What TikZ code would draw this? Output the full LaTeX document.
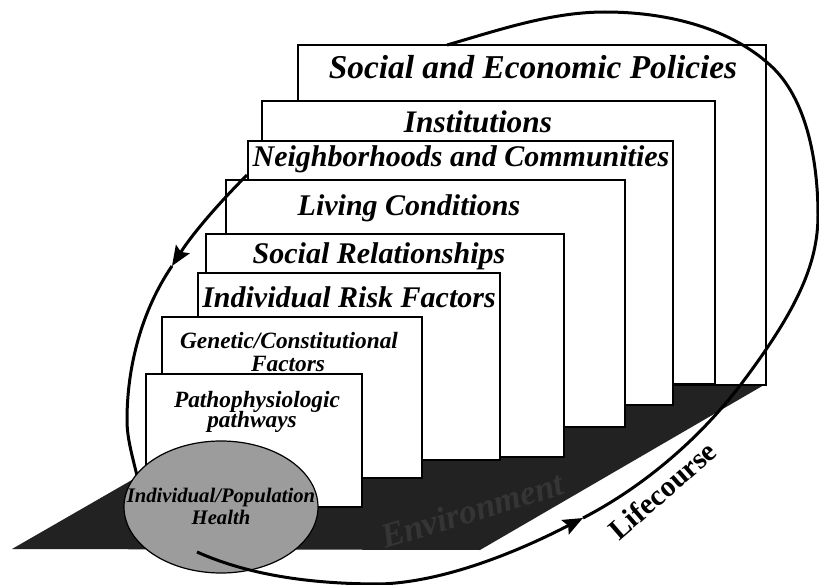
\documentclass[tikz,border=0pt]{standalone}
\usepackage{fontspec}
\setmainfont{Liberation Serif}
\usetikzlibrary{shapes.geometric,arrows.meta}
\definecolor{floorc}{HTML}{222222}
\definecolor{envc}{HTML}{353535}
\definecolor{healthc}{HTML}{9C9C9C}
\begin{document}
\begin{tikzpicture}[x=0.75pt,y=-0.75pt,
  layerbox/.style={draw=black, fill=white, line width=0.9pt, inner sep=0pt, outer sep=0pt, anchor=north west},
  lbl/.style={font=\bfseries\itshape\fontsize{22.5}{24}\selectfont, anchor=base, inner sep=0pt},
  lblsmall/.style={font=\bfseries\itshape\fontsize{17.5}{18}\selectfont, anchor=base, inner sep=0pt},
  lblhealth/.style={font=\bfseries\itshape\fontsize{15.5}{16}\selectfont, anchor=base, inner sep=0pt},
  loopline/.style={line width=2.25pt},
  looptip/.style={-{Stealth[length=15pt,width=12pt,inset=2.5pt]}}
]
\useasboundingbox (0,0) rectangle (819,585);
\fill[white] (0,0) rectangle (819,585);
% floor
\fill[floorc] (12,549) -- (480,550) -- (764,385) -- (297,385) -- cycle;
\node[font=\bfseries\itshape\fontsize{26}{26}\selectfont, text=envc, rotate=17, inner sep=0pt] (env) at (472,510) {Environment};
% layers
\node[layerbox, minimum width=351pt, minimum height=255pt] (sep) at (298,45) {};
\node[layerbox, minimum width=339.75pt, minimum height=212.25pt] (inst) at (262,101) {};
\node[layerbox, minimum width=318.75pt, minimum height=198pt] (nc) at (248,141) {};
\node[layerbox, minimum width=299.25pt, minimum height=185.25pt] (lc) at (226,180) {};
\node[layerbox, minimum width=268.5pt, minimum height=167.25pt] (sr) at (206,234) {};
\node[layerbox, minimum width=226.5pt, minimum height=140.25pt] (irf) at (198,273) {};
\node[layerbox, minimum width=195pt, minimum height=120.75pt] (gen) at (162,317) {};
\node[layerbox, minimum width=162pt, minimum height=99.75pt] (patho) at (146,374) {};
% labels
\node[lbl, font=\bfseries\itshape\fontsize{25}{26}\selectfont] (tsep) at (533,79) {Social and Economic Policies};
\node[lbl, font=\bfseries\itshape\fontsize{23.5}{24}\selectfont] (tinst) at (478,133) {Institutions};
\node[lbl] (tnc) at (461,167) {Neighborhoods and Communities};
\node[lbl] (tlc) at (409,216) {Living Conditions};
\node[lbl] (tsr) at (379,263) {Social Relationships};
\node[lbl] (tirf) at (349,307) {Individual Risk Factors};
\node[lblsmall] (tgen1) at (289,348) {Genetic/Constitutional};
\node[lblsmall] (tgen2) at (288,371) {Factors};
\node[lblsmall] (tpat1) at (257,407) {Pathophysiologic};
\node[lblsmall] (tpat2) at (252,427) {pathways};
% loop points
\coordinate (A) at (197,552);
\coordinate (B) at (380,584);
\coordinate (C) at (583,518);
\coordinate (D) at (742,383);
\coordinate (E) at (818,215);
\coordinate (F) at (770,65);
\coordinate (G) at (605,12);
\coordinate (H) at (447,45);
\coordinate (I) at (247,175);
\coordinate (J) at (172,266);
\coordinate (K) at (127,420);
\coordinate (L) at (140,488);
% left part of the loop (behind the health ellipse)
\draw[loopline, looptip] (I) .. controls (220,202) and (193,233) .. (J);
\draw[loopline] (J) .. controls (142,310) and (127,366) .. (K)
  .. controls (127,440) and (133,458) .. (L);
% health ellipse
\node[ellipse, draw=black, line width=0.9pt, fill=healthc, minimum width=145.5pt, minimum height=99pt, inner sep=0pt] (health) at (221,507) {};
\node[lblhealth] (th1) at (221,502) {Individual/Population};
\node[lblhealth] (th2) at (221,524) {Health};
% front part of the loop
\draw[loopline, looptip] (A) .. controls (253,577) and (318,584) .. (B)
  .. controls (447,582) and (523,549) .. (C);
\draw[loopline] (C) .. controls (641,488) and (698,441) .. (D)
  .. controls (796,311) and (818,265) .. (E)
  .. controls (818,165) and (808,99) .. (F)
  .. controls (727,26) and (663,12) .. (G)
  .. controls (551,12) and (499,30) .. (H);
\node[font=\bfseries\fontsize{22}{22}\selectfont, rotate=41, anchor=base, inner sep=0pt] (life) at (669,498) {Lifecourse};
\end{tikzpicture}
\end{document}
